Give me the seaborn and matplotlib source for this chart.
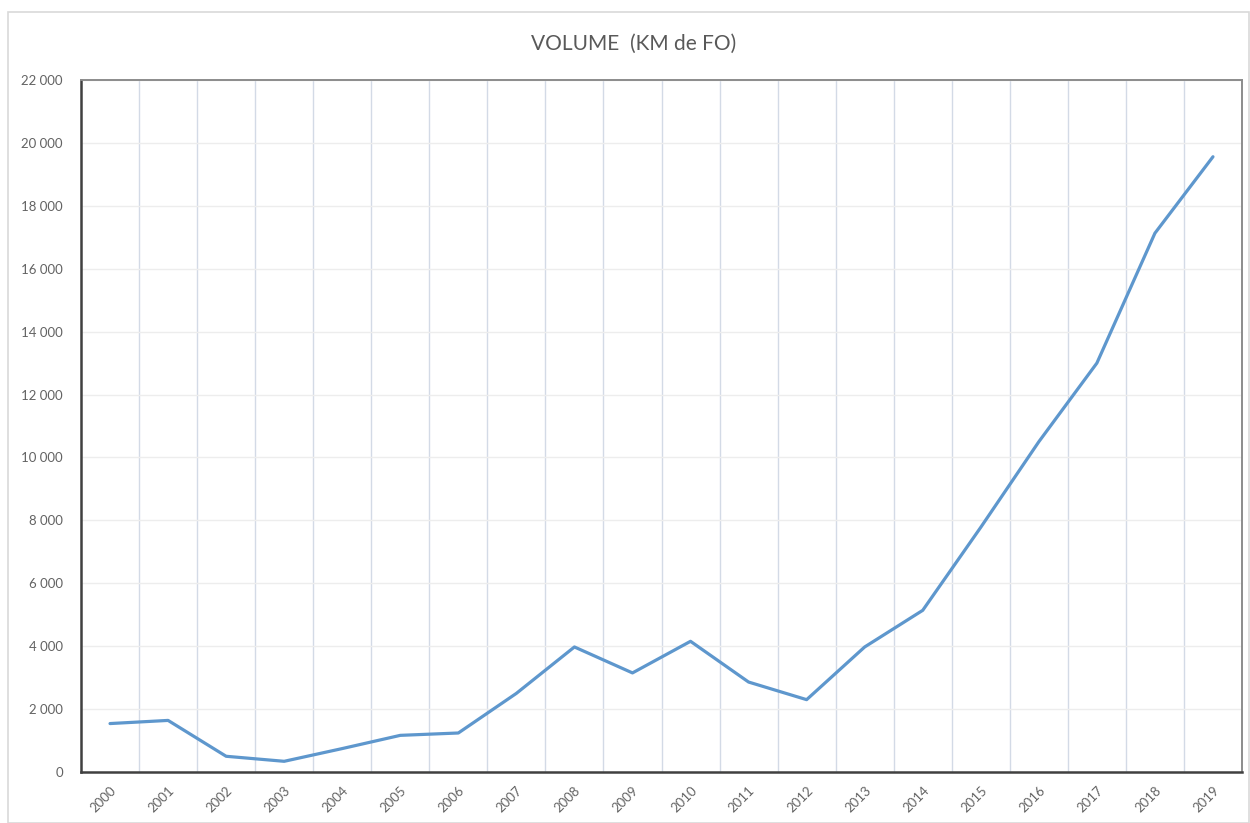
import matplotlib
matplotlib.use("Agg")
import matplotlib.pyplot as plt
import matplotlib.ticker as mticker
from matplotlib.patches import Rectangle
import seaborn as sns
import numpy as np

years = ["2000", "2001", "2002", "2003", "2004", "2005", "2006", "2007", "2008", "2009",
         "2010", "2011", "2012", "2013", "2014", "2015", "2016", "2017", "2018", "2019"]
volume = [1540, 1640, 500, 340, 745, 1165, 1240, 2500, 3975, 3150,
          4155, 2860, 2300, 3975, 5140, 7780, 10500, 13000, 17130, 19560]
title = "VOLUME  (KM de FO)"

sns.set_theme(style="white")
plt.rcParams['font.family'] = ['Lato', 'DejaVu Sans']

fig = plt.figure(figsize=(12.5, 8.23), dpi=100)
fig.patch.set_facecolor("white")
# outer chart border
fig.patches.append(Rectangle((8/1250, 0), 1 - 9/1250, 1 - 12/823, transform=fig.transFigure,
                             fill=False, edgecolor="#d9d9d9", linewidth=1.2, zorder=0))

ax = fig.add_axes([81/1250, 1 - 772/823, (1242 - 81)/1250, (772 - 80)/823])

xpos = np.arange(len(years))
sns.lineplot(x=xpos, y=volume, ax=ax, color="#5e97cd", linewidth=2.3, zorder=3)

ax.set_xlim(-0.5, len(years) - 0.5)
ax.set_ylim(0, 22000)
ax.set_yticks(np.arange(0, 22001, 2000))
ax.yaxis.set_major_formatter(mticker.FuncFormatter(lambda v, p: f"{int(v):,}".replace(",", " ")))
ax.set_xticks(xpos)
ax.set_xticklabels(years, rotation=45, ha="right", rotation_mode="anchor")
ax.set_xticks(np.arange(0.5, len(years) - 1, 1.0), minor=True)

ax.grid(False)
ax.yaxis.grid(True, color="#ededed", linewidth=1.0, zorder=0)
ax.xaxis.grid(True, which="minor", color="#d3dae6", linewidth=1.0, zorder=0)

ax.tick_params(axis="both", which="both", length=0, colors="#636363", labelsize=9.5)
ax.tick_params(axis="y", pad=13)
ax.tick_params(axis="x", pad=9)
ax.set_xlabel("")
ax.set_ylabel("")

for side in ["left", "bottom"]:
    ax.spines[side].set_color("#404040")
    ax.spines[side].set_linewidth(1.8)
for side in ["top", "right"]:
    ax.spines[side].set_color("#8c8c8c")
    ax.spines[side].set_linewidth(1.4)
    ax.spines[side].set_visible(True)

fig.text(634/1250, 1 - 44/823, title, ha="center", va="center", fontsize=15, color="#595959")

fig.savefig("out.png", dpi=100, facecolor="white")
